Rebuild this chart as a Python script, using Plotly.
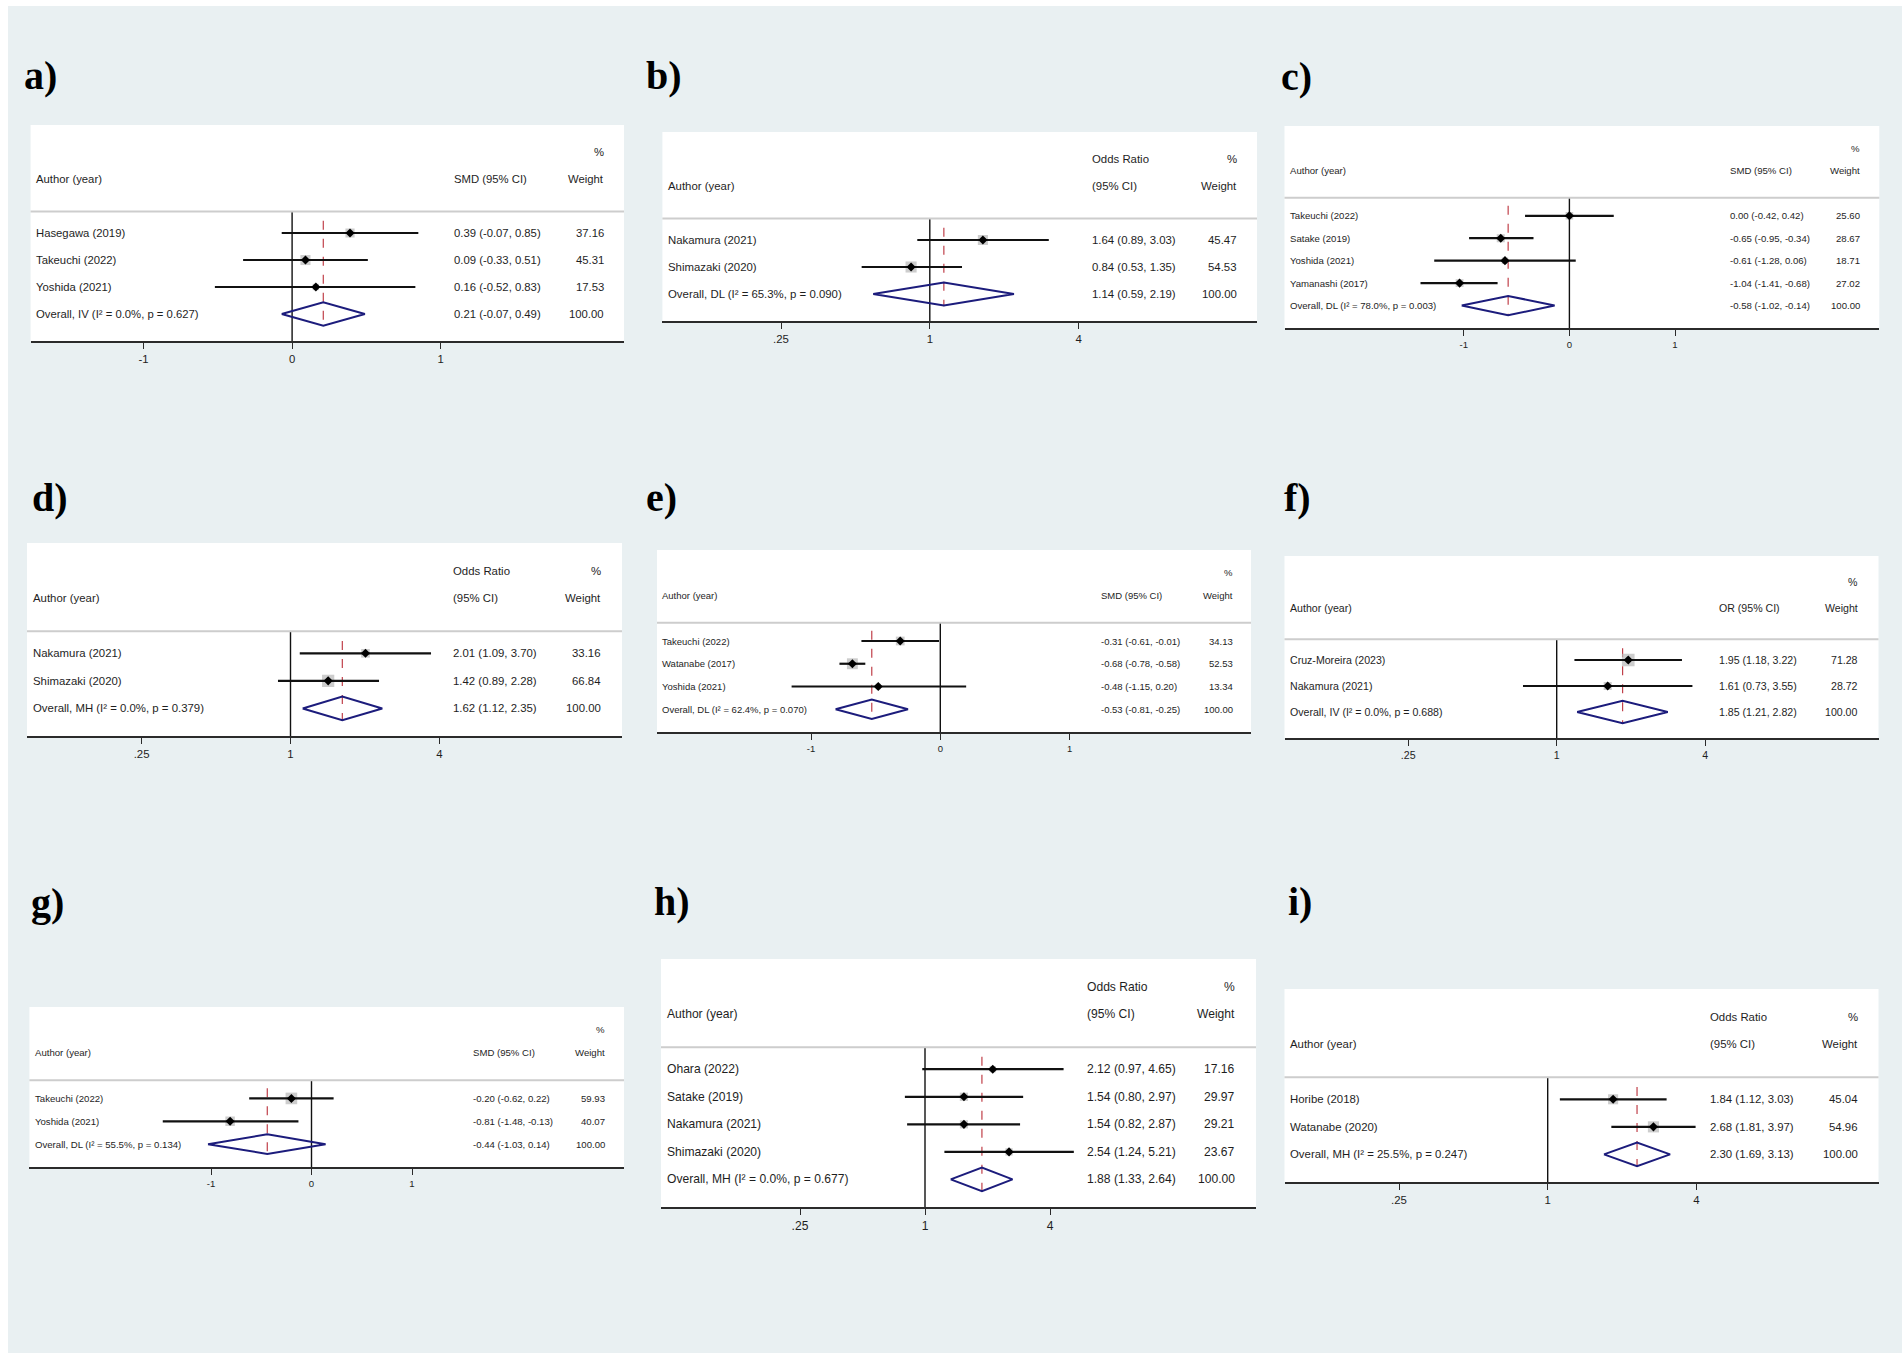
import math
import plotly.graph_objects as go

W, H = 1902, 1353

# ---- data ----
a_authors = ["Hasegawa (2019)", "Takeuchi (2022)", "Yoshida (2021)"]
a_est = [0.39, 0.09, 0.16]
a_lo = [-0.07, -0.33, -0.52]
a_hi = [0.85, 0.51, 0.83]
a_weight = [37.16, 45.31, 17.53]
a_overall = [0.21, -0.07, 0.49]
a_overall_label = "Overall, IV (I² = 0.0%, p = 0.627)"

b_authors = ["Nakamura (2021)", "Shimazaki (2020)"]
b_est = [1.64, 0.84]
b_lo = [0.89, 0.53]
b_hi = [3.03, 1.35]
b_weight = [45.47, 54.53]
b_overall = [1.14, 0.59, 2.19]
b_overall_label = "Overall, DL (I² = 65.3%, p = 0.090)"

c_authors = ["Takeuchi (2022)", "Satake (2019)", "Yoshida (2021)", "Yamanashi (2017)"]
c_est = [0.00, -0.65, -0.61, -1.04]
c_lo = [-0.42, -0.95, -1.28, -1.41]
c_hi = [0.42, -0.34, 0.06, -0.68]
c_weight = [25.60, 28.67, 18.71, 27.02]
c_overall = [-0.58, -1.02, -0.14]
c_overall_label = "Overall, DL (I² = 78.0%, p = 0.003)"

d_authors = ["Nakamura (2021)", "Shimazaki (2020)"]
d_est = [2.01, 1.42]
d_lo = [1.09, 0.89]
d_hi = [3.70, 2.28]
d_weight = [33.16, 66.84]
d_overall = [1.62, 1.12, 2.35]
d_overall_label = "Overall, MH (I² = 0.0%, p = 0.379)"

e_authors = ["Takeuchi (2022)", "Watanabe (2017)", "Yoshida (2021)"]
e_est = [-0.31, -0.68, -0.48]
e_lo = [-0.61, -0.78, -1.15]
e_hi = [-0.01, -0.58, 0.20]
e_weight = [34.13, 52.53, 13.34]
e_overall = [-0.53, -0.81, -0.25]
e_overall_label = "Overall, DL (I² = 62.4%, p = 0.070)"

f_authors = ["Cruz-Moreira (2023)", "Nakamura (2021)"]
f_est = [1.95, 1.61]
f_lo = [1.18, 0.73]
f_hi = [3.22, 3.55]
f_weight = [71.28, 28.72]
f_overall = [1.85, 1.21, 2.82]
f_overall_label = "Overall, IV (I² = 0.0%, p = 0.688)"

g_authors = ["Takeuchi (2022)", "Yoshida (2021)"]
g_est = [-0.20, -0.81]
g_lo = [-0.62, -1.48]
g_hi = [0.22, -0.13]
g_weight = [59.93, 40.07]
g_overall = [-0.44, -1.03, 0.14]
g_overall_label = "Overall, DL (I² = 55.5%, p = 0.134)"

h_authors = ["Ohara (2022)", "Satake (2019)", "Nakamura (2021)", "Shimazaki (2020)"]
h_est = [2.12, 1.54, 1.54, 2.54]
h_lo = [0.97, 0.80, 0.82, 1.24]
h_hi = [4.65, 2.97, 2.87, 5.21]
h_weight = [17.16, 29.97, 29.21, 23.67]
h_overall = [1.88, 1.33, 2.64]
h_overall_label = "Overall, MH (I² = 0.0%, p = 0.677)"

i_authors = ["Horibe (2018)", "Watanabe (2020)"]
i_est = [1.84, 2.68]
i_lo = [1.12, 1.81]
i_hi = [3.03, 3.97]
i_weight = [45.04, 54.96]
i_overall = [2.30, 1.69, 3.13]
i_overall_label = "Overall, MH (I² = 25.5%, p = 0.247)"

smd_ticks = [-1, 0, 1]
smd_ticktext = ["-1", "0", "1"]
or_ticks = [0.25, 1, 4]
or_ticktext = [".25", "1", "4"]

hdr_smd = (["", "", "%"], ["Author (year)", "SMD (95% CI)", "Weight"])
hdr_oddsratio = (["", "Odds Ratio", "%"], ["Author (year)", "(95% CI)", "Weight"])
hdr_or = (["", "", "%"], ["Author (year)", "OR (95% CI)", "Weight"])

# ---- panel geometry (pixels in the 1902x1353 page) ----
panels = [
    dict(tag="a)", lab=(22, 76), box=(30.6, 125, 624, 341), tickpx=(143.6, 440.6), cols=(34, 452, 606), fs=11.3,
         kind="smd", hdr=hdr_smd, authors=a_authors, est=a_est, lo=a_lo, hi=a_hi, wt=a_weight,
         overall=a_overall, olabel=a_overall_label),
    dict(tag="b)", lab=(644, 76), box=(662.4, 132, 1257, 321), tickpx=(781, 1078.6), cols=(665.7, 1090, 1238.5), fs=11.4,
         kind="or", hdr=hdr_oddsratio, authors=b_authors, est=b_est, lo=b_lo, hi=b_hi, wt=b_weight,
         overall=b_overall, olabel=b_overall_label),
    dict(tag="c)", lab=(1279, 77), box=(1284.5, 126, 1879.3, 328), tickpx=(1463.8, 1675), cols=(1288, 1728.2, 1862.4), fs=9.6,
         kind="smd", hdr=hdr_smd, authors=c_authors, est=c_est, lo=c_lo, hi=c_hi, wt=c_weight,
         overall=c_overall, olabel=c_overall_label),
    dict(tag="d)", lab=(30, 497), box=(27, 543, 622, 736), tickpx=(141.6, 439.4), cols=(30.6, 451, 602.6), fs=11.4,
         kind="or", hdr=hdr_oddsratio, authors=d_authors, est=d_est, lo=d_lo, hi=d_hi, wt=d_weight,
         overall=d_overall, olabel=d_overall_label),
    dict(tag="e)", lab=(644, 497), box=(657, 550, 1251, 732), tickpx=(811, 1069.6), cols=(660, 1099, 1235), fs=9.5,
         kind="smd", hdr=hdr_smd, authors=e_authors, est=e_est, lo=e_lo, hi=e_hi, wt=e_weight,
         overall=e_overall, olabel=e_overall_label),
    dict(tag="f)", lab=(1282, 497), box=(1284.5, 556, 1878.5, 738), tickpx=(1408.2, 1705.2), cols=(1288, 1716.5, 1860.4), fs=10.6,
         kind="or", hdr=hdr_or, authors=f_authors, est=f_est, lo=f_lo, hi=f_hi, wt=f_weight,
         overall=f_overall, olabel=f_overall_label),
    dict(tag="g)", lab=(29, 903), box=(29.4, 1007, 624, 1167), tickpx=(211, 412), cols=(32.6, 471, 607), fs=9.6,
         kind="smd", hdr=hdr_smd, authors=g_authors, est=g_est, lo=g_lo, hi=g_hi, wt=g_weight,
         overall=g_overall, olabel=g_overall_label),
    dict(tag="h)", lab=(652, 901), box=(661, 959, 1256, 1207), tickpx=(800, 1050), cols=(665, 1085, 1237), fs=12.1,
         kind="or", hdr=hdr_oddsratio, authors=h_authors, est=h_est, lo=h_lo, hi=h_hi, wt=h_weight,
         overall=h_overall, olabel=h_overall_label),
    dict(tag="i)", lab=(1286, 901), box=(1284.5, 989, 1878.5, 1182), tickpx=(1399, 1696.4), cols=(1288, 1708, 1859.6), fs=11.4,
         kind="or", hdr=hdr_oddsratio, authors=i_authors, est=i_est, lo=i_lo, hi=i_hi, wt=i_weight,
         overall=i_overall, olabel=i_overall_label),
]

FONT = "Liberation Sans, Arial, sans-serif"
TXT = "#1e1e1e"
NAVY = "#1c1c7c"
BG = "#e9f0f2"

fig = go.Figure()
shapes = [
    dict(type="rect", xref="paper", yref="paper", x0=8 / W, x1=1, y0=0, y1=1 - 6 / H,
         fillcolor=BG, line=dict(width=0), layer="below"),
]
annotations = []

for k, p in enumerate(panels):
    sfx = "" if k == 0 else str(k + 1)
    xa, ya = "x" + sfx, "y" + sfx
    left, top, right, bottom = p["box"]
    m = len(p["authors"])
    rows = list(range(1, m + 1))
    orow = m + 1
    is_log = p["kind"] == "or"
    ticks = or_ticks if is_log else smd_ticks
    ttext = or_ticktext if is_log else smd_ticktext
    null = 1 if is_log else 0

    # x range so that the first/last ticks land where they sit in the figure
    t0 = math.log10(ticks[0]) if is_log else ticks[0]
    t2 = math.log10(ticks[-1]) if is_log else ticks[-1]
    p0, p2 = p["tickpx"]
    ppu = (p2 - p0) / (t2 - t0)
    xr = [t0 + (left - p0) / ppu, t0 + (right - p0) / ppu]

    fig.update_layout({
        "xaxis" + sfx: dict(domain=[left / W, right / W], range=xr, type="log" if is_log else "linear",
                            anchor=ya, showgrid=False, zeroline=False, showline=True, linecolor="#2b2b2b",
                            linewidth=2.2, ticks="outside", ticklen=6, tickwidth=1.4, tickcolor="#2b2b2b",
                            tickvals=ticks, ticktext=ttext, fixedrange=True,
                            tickfont=dict(family=FONT, size=p["fs"], color=TXT)),
        "yaxis" + sfx: dict(domain=[1 - bottom / H, 1 - top / H], range=[m + 2, -3], anchor=xa,
                            visible=False, showgrid=False, zeroline=False, fixedrange=True),
    })

    # white plot box and header separator
    shapes.append(dict(type="rect", xref=xa + " domain", yref=ya + " domain", x0=0, x1=1, y0=0, y1=1,
                       fillcolor="white", line=dict(width=0), layer="below"))
    shapes.append(dict(type="line", xref=xa + " domain", yref=ya, x0=0, x1=1, y0=0.2, y1=0.2,
                       line=dict(color="#cdcdcd", width=2)))

    # null line
    fig.add_trace(go.Scatter(x=[null, null], y=[0.2, m + 2], mode="lines", xaxis=xa, yaxis=ya,
                             line=dict(color="#111111", width=1.4), hoverinfo="skip", showlegend=False))
    # overall estimate dashed line
    fig.add_trace(go.Scatter(x=[p["overall"][0]] * 2, y=[0.55, orow + 0.45], mode="lines", xaxis=xa, yaxis=ya,
                             line=dict(color="#c0404a", width=1.2, dash="dash"), hoverinfo="skip", showlegend=False))
    # weight boxes
    fig.add_trace(go.Scatter(x=p["est"], y=rows, mode="markers", xaxis=xa, yaxis=ya,
                             marker=dict(symbol="square", color="#b8b8b8",
                                         size=[1.5 * math.sqrt(w) for w in p["wt"]], line=dict(width=0)),
                             hoverinfo="skip", showlegend=False))
    # confidence intervals
    cx, cy = [], []
    for lo, hi, r in zip(p["lo"], p["hi"], rows):
        cx += [lo, hi, None]
        cy += [r, r, None]
    fig.add_trace(go.Scatter(x=cx, y=cy, mode="lines", xaxis=xa, yaxis=ya,
                             line=dict(color="#111111", width=2.2), hoverinfo="skip", showlegend=False))
    # point estimates
    fig.add_trace(go.Scatter(x=p["est"], y=rows, mode="markers", xaxis=xa, yaxis=ya,
                             marker=dict(symbol="diamond", color="#000000", size=7),
                             hoverinfo="skip", showlegend=False))
    # pooled diamond
    oe, ol, oh = p["overall"]
    fig.add_trace(go.Scatter(x=[ol, oe, oh, oe, ol], y=[orow, orow - 0.43, orow, orow + 0.43, orow],
                             mode="lines", xaxis=xa, yaxis=ya, line=dict(color=NAVY, width=2),
                             hoverinfo="skip", showlegend=False))

    # text columns
    ax, cx_, wx = [(c - left) / (right - left) for c in p["cols"]]
    font = dict(family=FONT, size=p["fs"], color=TXT)

    def txt(x, y, s, anchor):
        annotations.append(dict(xref=xa + " domain", yref=ya, x=x, y=y, text=s, showarrow=False,
                                xanchor=anchor, yanchor="middle", font=font))

    top_hdr, bot_hdr = p["hdr"]
    for s, x, anc in zip(top_hdr, (ax, cx_, wx), ("left", "left", "right")):
        if s:
            txt(x, -2, s, anc)
    for s, x, anc in zip(bot_hdr, (ax, cx_, wx), ("left", "left", "right")):
        txt(x, -1, s, anc)
    for r, name, e, lo, hi, w in zip(rows, p["authors"], p["est"], p["lo"], p["hi"], p["wt"]):
        txt(ax, r, name, "left")
        txt(cx_, r, f"{e:.2f} ({lo:.2f}, {hi:.2f})", "left")
        txt(wx, r, f"{w:.2f}", "right")
    txt(ax, orow, p["olabel"], "left")
    txt(cx_, orow, f"{oe:.2f} ({ol:.2f}, {oh:.2f})", "left")
    txt(wx, orow, "100.00", "right")

    # panel letter
    annotations.append(dict(xref="paper", yref="paper", x=p["lab"][0] / W, y=1 - p["lab"][1] / H,
                            text=p["tag"], showarrow=False, xanchor="left", yanchor="middle",
                            font=dict(family="Liberation Serif, Times New Roman, serif", size=40,
                                      color="#000000", weight="bold")))

fig.update_layout(
    width=W, height=H, margin=dict(l=0, r=0, t=0, b=0),
    paper_bgcolor="white", plot_bgcolor="rgba(0,0,0,0)",
    showlegend=False, shapes=shapes, annotations=annotations,
)

fig.write_html("out.html", config={"displayModeBar": False},
               post_script="document.body.style.margin='0';document.body.style.overflow='hidden';")
